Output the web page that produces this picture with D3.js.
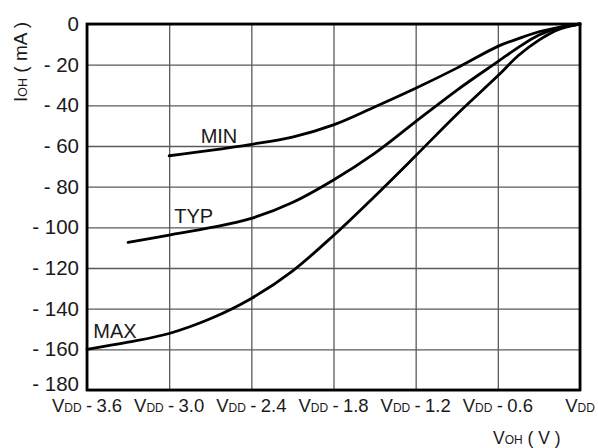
<!DOCTYPE html>
<html>
<head>
<meta charset="utf-8">
<script src="https://cdn.jsdelivr.net/npm/d3@7"></script>
<style>
  html, body { margin: 0; padding: 0; background: #fff; }
  svg { display: block; font-family: "Liberation Sans", Arial, Helvetica, sans-serif; }
</style>
</head>
<body>
<script>
// Output high current vs output voltage (I_OH vs V_OH)
const xTicks = [-3.6, -3.0, -2.4, -1.8, -1.2, -0.6, 0];
const xTickSuffix = [" - 3.6", " - 3.0", " - 2.4", " - 1.8", " - 1.2", " - 0.6", ""];
const yTicks = [0, -20, -40, -60, -80, -100, -120, -140, -160, -180];
const yTickLabels = ["0", "- 20", "- 40", "- 60", "- 80", "- 100", "- 120", "- 140", "- 160", "- 180"];

const voltMin = [-3.0, -2.7, -2.4, -2.1, -1.8, -1.5, -1.2, -0.9, -0.6, -0.45, -0.3, -0.15, 0];
const currMin = [-64.8, -62.2, -59.2, -55.6, -49.6, -40.8, -31.6, -21.7, -11.0, -7.2, -3.8, -1.6, 0];

const voltTyp = [-3.3, -3.0, -2.7, -2.4, -2.1, -1.8, -1.5, -1.2, -0.9, -0.6, -0.45, -0.3, -0.15, 0];
const currTyp = [-107.4, -103.8, -100.2, -95.6, -87.8, -76.7, -63.6, -48.0, -32.6, -18.5, -11.5, -5.4, -1.8, 0];

const voltMax = [-3.6, -3.3, -3.0, -2.7, -2.4, -2.1, -1.8, -1.5, -1.2, -0.9, -0.6, -0.45, -0.3, -0.15, 0];
const currMax = [-160, -156.5, -152.2, -145.0, -135.0, -121.5, -104.0, -84.8, -64.8, -44.5, -25.5, -15.5, -7.9, -2.5, 0];

const seriesNames = ["MIN", "TYP", "MAX"];

const W = 598, H = 448;
const plot = { left: 87, right: 580, top: 24, bottom: 390 };

const x = d3.scaleLinear().domain([-3.6, 0]).range([plot.left, plot.right]);
const y = d3.scaleLinear().domain([0, -180]).range([plot.top, plot.bottom]);

const svg = d3.select("body").append("svg").attr("width", W).attr("height", H);

// grid lines from the axis generators
const gx = svg.append("g")
  .attr("transform", `translate(0,${plot.bottom})`)
  .call(d3.axisBottom(x).tickValues(xTicks).tickSize(-(plot.bottom - plot.top)).tickFormat(""));
const gy = svg.append("g")
  .attr("transform", `translate(${plot.left},0)`)
  .call(d3.axisLeft(y).tickValues(yTicks).tickSize(-(plot.right - plot.left)).tickFormat(""));
[gx, gy].forEach(g => {
  g.select(".domain").remove();
  g.selectAll(".tick line").attr("stroke", "#5a5a5a").attr("stroke-width", 1.3);
});

// curves
const line = d3.line().x(d => x(d[0])).y(d => y(d[1])).curve(d3.curveCatmullRom.alpha(0.5));
const series = [
  d3.zip(voltMin, currMin),
  d3.zip(voltTyp, currTyp),
  d3.zip(voltMax, currMax)
];
svg.append("g").selectAll("path").data(series).join("path")
  .attr("d", line)
  .attr("fill", "none")
  .attr("stroke", "#000")
  .attr("stroke-width", 2.8)
  .attr("stroke-linecap", "round");

// frame
svg.append("rect")
  .attr("x", plot.left).attr("y", plot.top)
  .attr("width", plot.right - plot.left).attr("height", plot.bottom - plot.top)
  .attr("fill", "none").attr("stroke", "#000").attr("stroke-width", 2.8);

const textColor = "#1a1a1a";

// y tick labels
svg.append("g").selectAll("text").data(yTicks).join("text")
  .attr("x", 79)
  .attr("y", d => Math.min(Math.max(y(d) + 7, 28.5), 390.5))
  .attr("text-anchor", "end")
  .attr("font-size", 20.5)
  .attr("fill", textColor)
  .text((d, i) => yTickLabels[i]);

// x tick labels: V with small-cap DD subscript
const xl = svg.append("g").selectAll("text").data(xTicks).join("text")
  .attr("x", d => x(d))
  .attr("y", 412)
  .attr("text-anchor", "middle")
  .attr("font-size", 18.5)
  .attr("word-spacing", -0.8)
  .attr("fill", textColor);
xl.append("tspan").text("V");
xl.append("tspan").attr("font-size", 12).text("DD");
xl.append("tspan").text((d, i) => xTickSuffix[i]);

// x axis title
const xt = svg.append("text")
  .attr("x", 493).attr("y", 444)
  .attr("font-size", 17.5)
  .attr("fill", textColor);
xt.append("tspan").text("V");
xt.append("tspan").attr("font-size", 12).text("OH");
xt.append("tspan").text(" ( V )");

// y axis title
const yt = svg.append("text")
  .attr("transform", "translate(27,102) rotate(-90)")
  .attr("font-size", 19)
  .attr("fill", textColor);
yt.append("tspan").text("I");
yt.append("tspan").attr("font-size", 12.5).text("OH");
yt.append("tspan").text(" ( mA )");

// curve labels
const labelPos = [
  { vx: -2.77, vy: -58.7 },
  { vx: -2.963, vy: -98 },
  { vx: -3.554, vy: -154.6 }
];
svg.append("g").selectAll("text").data(seriesNames).join("text")
  .attr("x", (d, i) => x(labelPos[i].vx))
  .attr("y", (d, i) => y(labelPos[i].vy))
  .attr("font-size", 20)
  .attr("fill", textColor)
  .text(d => d);
</script>
</body>
</html>
